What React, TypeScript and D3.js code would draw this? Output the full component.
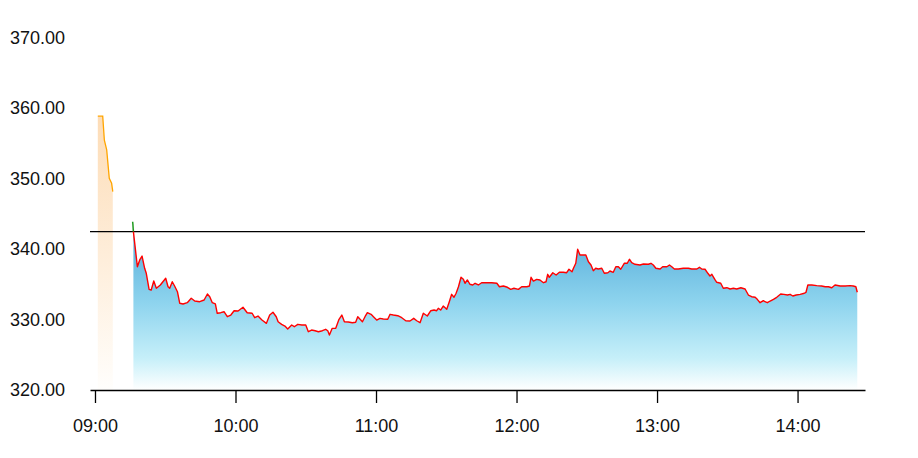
import { useEffect, useRef } from "react";
import * as d3 from "d3";

// minutes after 09:00 and price
const preMinutes = [1.2, 3.3, 4.0, 5.0, 6.1, 7.1, 7.6];
const prePrices = [358.9, 358.9, 355.5, 354.1, 350.07, 349.36, 348.17];

const openMinutes = [16.1, 16.4];
const openPrices = [343.9, 342.49];

const redMinutes = [
  16.4, 18.1, 19.1, 20.1, 21.2, 21.9, 23.1, 24.0, 25.1, 26.2,
  27.9, 29.0, 30.2, 31.2, 31.9, 33.0, 34.0, 35.2, 36.2, 37.6,
  39.4, 41.1, 42.6, 44.7, 46.6, 48.0, 49.0, 50.1, 51.4, 52.2,
  53.7, 55.1, 56.5, 58.0, 59.4, 61.1, 63.2, 65.0, 67.1, 68.2,
  69.6, 71.3, 73.2, 74.6, 76.0, 77.4, 78.2, 79.7, 81.1, 82.3,
  84.0, 85.1, 86.6, 88.3, 90.0, 91.1, 92.5, 94.0, 95.4, 97.1,
  98.5, 99.4, 100.1, 101.3, 102.8, 104.2, 105.4, 106.5, 108.2, 109.9,
  111.3, 112.2, 113.2, 114.2, 115.3, 116.3, 117.9, 118.9, 120.3, 121.7,
  123.1, 125.0, 126.0, 127.4, 129.3, 131.0, 132.7, 134.5, 136.1, 137.4,
  138.8, 140.2, 141.9, 143.4, 144.8, 145.9, 146.6, 147.6, 148.7, 150.2,
  151.3, 152.3, 153.3, 154.2, 155.2, 156.3, 157.3, 158.0, 159.0, 160.1,
  161.3, 162.3, 163.7, 165.1, 167.3, 169.4, 171.6, 172.7, 174.4, 176.1,
  177.5, 178.9, 180.8, 182.2, 184.4, 185.5, 186.2, 187.2, 188.6, 190.0,
  191.5, 192.6, 193.3, 194.0, 195.5, 196.9, 198.3, 200.0, 201.4, 202.4,
  203.7, 204.3, 205.3, 206.1, 207.1, 208.5, 209.6, 210.7, 211.8, 212.8,
  213.8, 214.9, 216.4, 217.5, 219.0, 219.9, 221.3, 222.4, 223.5, 224.5,
  226.0, 227.3, 228.2, 229.2, 230.6, 232.7, 234.2, 236.3, 237.4, 238.4,
  239.5, 241.3, 242.4, 244.2, 245.3, 246.3, 247.4, 249.1, 251.2, 253.4,
  254.8, 257.0, 258.1, 259.1, 260.5, 261.7, 262.6, 263.4, 264.8, 265.5,
  267.2, 268.3, 269.8, 271.2, 272.6, 274.0, 275.8, 277.6, 279.0, 280.4,
  281.9, 282.8, 284.0, 285.4, 286.1, 287.1, 288.3, 289.7, 291.1, 292.8,
  294.2, 295.7, 296.8, 298.0, 299.4, 301.1, 302.9, 303.6, 304.4, 306.1,
  308.2, 310.3, 311.8, 313.2, 314.6, 316.0, 318.2, 320.3, 322.4, 323.8,
  324.9, 325.5,
];

const redPrices = [
  342.49, 337.51, 338.47, 339.03, 337.29, 336.58, 334.30, 334.21, 335.48, 334.45,
  334.92, 335.38, 335.87, 334.67, 334.45, 335.38, 334.77, 333.96, 332.32, 332.22,
  332.40, 333.03, 332.64, 332.54, 332.78, 333.64, 333.25, 332.40, 332.22, 330.90,
  330.98, 331.12, 330.41, 330.65, 331.26, 331.22, 331.75, 330.98, 330.90, 330.27,
  330.51, 329.94, 329.47, 330.65, 331.04, 330.41, 329.70, 329.33, 329.09, 328.66,
  329.23, 328.99, 329.33, 329.23, 329.23, 328.28, 328.52, 328.42, 328.28, 328.42,
  328.62, 328.42, 327.81, 328.76, 328.76, 330.04, 330.65, 329.70, 329.66, 329.56,
  329.62, 330.41, 330.04, 329.70, 330.41, 330.98, 330.75, 330.41, 329.94, 330.18,
  330.09, 330.04, 330.75, 330.65, 330.55, 330.27, 329.84, 329.80, 330.18, 329.84,
  329.56, 330.90, 330.51, 331.26, 331.36, 331.26, 331.61, 331.36, 331.93, 331.46,
  332.54, 333.59, 333.17, 333.74, 334.67, 336.01, 335.73, 335.16, 335.63, 335.02,
  334.92, 335.16, 334.92, 335.24, 335.24, 335.24, 335.16, 334.67, 334.77, 334.59,
  334.30, 334.45, 334.30, 334.67, 334.67, 334.77, 336.01, 335.48, 335.72, 335.63,
  335.24, 335.38, 336.43, 336.01, 336.66, 336.34, 336.72, 336.72, 336.66, 337.15,
  336.80, 337.29, 338.00, 339.99, 339.18, 339.18, 339.18, 338.22, 337.76, 336.95,
  337.29, 337.19, 337.29, 336.58, 336.66, 336.90, 336.72, 337.51, 337.51, 337.15,
  338.00, 338.00, 338.57, 338.08, 337.86, 337.76, 337.90, 337.86, 338.00, 337.76,
  337.29, 337.19, 337.51, 337.51, 337.76, 337.51, 337.19, 337.19, 337.29, 337.29,
  337.19, 337.19, 337.43, 337.19, 337.15, 336.58, 336.19, 336.43, 335.63, 335.30,
  335.16, 334.45, 334.53, 334.35, 334.45, 334.35, 334.53, 334.35, 333.49, 333.25,
  333.17, 332.88, 332.40, 332.69, 332.54, 332.40, 332.64, 332.88, 333.17, 333.64,
  333.59, 333.49, 333.59, 333.35, 333.49, 333.59, 333.74, 333.88, 334.92, 334.92,
  334.82, 334.77, 334.67, 334.67, 334.53, 334.92, 334.77, 334.77, 334.82, 334.77,
  334.67, 333.88,
];

const prevClose = 342.5;
const yTicks = [320, 330, 340, 350, 360, 370];

interface Pt {
  t: Date;
  v: number;
}

const base = new Date(2024, 0, 2, 9, 0, 0);
const toDate = (m: number) => new Date(base.getTime() + m * 60000);
const zip = (ms: number[], vs: number[]): Pt[] =>
  ms.slice(0, Math.min(ms.length, vs.length)).map((m, i) => ({ t: toDate(m), v: vs[i] }));

const FONT = "'Liberation Sans', Arial, Helvetica, sans-serif";

const App: React.FC = () => {
  const ref = useRef<SVGSVGElement>(null);

  useEffect(() => {
    if (!ref.current) return;
    const W = 918;
    const H = 458;
    const svg = d3.select(ref.current).attr("width", W).attr("height", H);
    svg.selectAll("*").remove();

    const pre = zip(preMinutes, prePrices);
    const open = zip(openMinutes, openPrices);
    const red = zip(redMinutes, redPrices);

    const x = d3.scaleTime()
      .domain([toDate(-2.13), toDate(328.8)])
      .range([90, 865]);
    const y = d3.scaleLinear().domain([320, 370]).range([390, 38]);

    const defs = svg.append("defs");
    const blue = defs.append("linearGradient")
      .attr("id", "blueFill")
      .attr("gradientUnits", "userSpaceOnUse")
      .attr("x1", 0).attr("x2", 0)
      .attr("y1", y(d3.max(redPrices)!)).attr("y2", y(320));
    blue.append("stop").attr("offset", "0%").attr("stop-color", "#55acd9");
    blue.append("stop").attr("offset", "45%").attr("stop-color", "#8ed4ee");
    blue.append("stop").attr("offset", "80%").attr("stop-color", "#c6eff9");
    blue.append("stop").attr("offset", "100%").attr("stop-color", "#ffffff");

    const orange = defs.append("linearGradient")
      .attr("id", "orangeFill")
      .attr("gradientUnits", "userSpaceOnUse")
      .attr("x1", 0).attr("x2", 0)
      .attr("y1", y(d3.max(prePrices)!)).attr("y2", y(320));
    orange.append("stop").attr("offset", "0%").attr("stop-color", "#fddcb6");
    orange.append("stop").attr("offset", "100%").attr("stop-color", "#fffefc");

    const area = d3.area<Pt>()
      .x(d => x(d.t))
      .y0(y(320))
      .y1(d => y(d.v));
    const line = d3.line<Pt>()
      .x(d => x(d.t))
      .y(d => y(d.v));

    svg.append("path").datum(pre).attr("fill", "url(#orangeFill)").attr("d", area);
    svg.append("path").datum(red).attr("fill", "url(#blueFill)").attr("d", area);

    // previous close
    svg.append("line")
      .attr("x1", 90).attr("x2", 865)
      .attr("y1", y(prevClose)).attr("y2", y(prevClose))
      .attr("stroke", "#000").attr("stroke-width", 1.3);

    svg.append("path").datum(pre)
      .attr("fill", "none").attr("stroke", "#ffa500").attr("stroke-width", 1.3)
      .attr("d", line);
    svg.append("path").datum(open)
      .attr("fill", "none").attr("stroke", "#1f9a1f").attr("stroke-width", 1.5)
      .attr("d", line);
    svg.append("path").datum(red)
      .attr("fill", "none").attr("stroke", "#ff0000").attr("stroke-width", 1.4)
      .attr("stroke-linejoin", "round")
      .attr("d", line);

    const xAxis = svg.append("g")
      .attr("transform", `translate(0,${y(320)})`)
      .call(
        d3.axisBottom<Date>(x)
          .ticks(d3.timeHour.every(1)!)
          .tickFormat(d3.timeFormat("%H:%M"))
          .tickSize(13)
          .tickSizeOuter(0)
          .tickPadding(16)
      );
    xAxis.select(".domain").attr("stroke", "#000").attr("stroke-width", 1.3);
    xAxis.selectAll(".tick line").attr("stroke", "#000").attr("stroke-width", 1.3);
    xAxis.selectAll(".tick text")
      .attr("font-family", FONT).attr("font-size", 18).attr("fill", "#111");

    svg.append("g")
      .selectAll("text")
      .data(yTicks)
      .join("text")
      .attr("x", 10)
      .attr("y", d => y(d))
      .attr("dominant-baseline", "central")
      .attr("font-family", FONT)
      .attr("font-size", 18)
      .attr("fill", "#111")
      .text(d => d3.format(".2f")(d));
  }, []);

  return <svg ref={ref} style={{ position: "absolute", left: 0, top: 0 }} />;
};

export default App;
